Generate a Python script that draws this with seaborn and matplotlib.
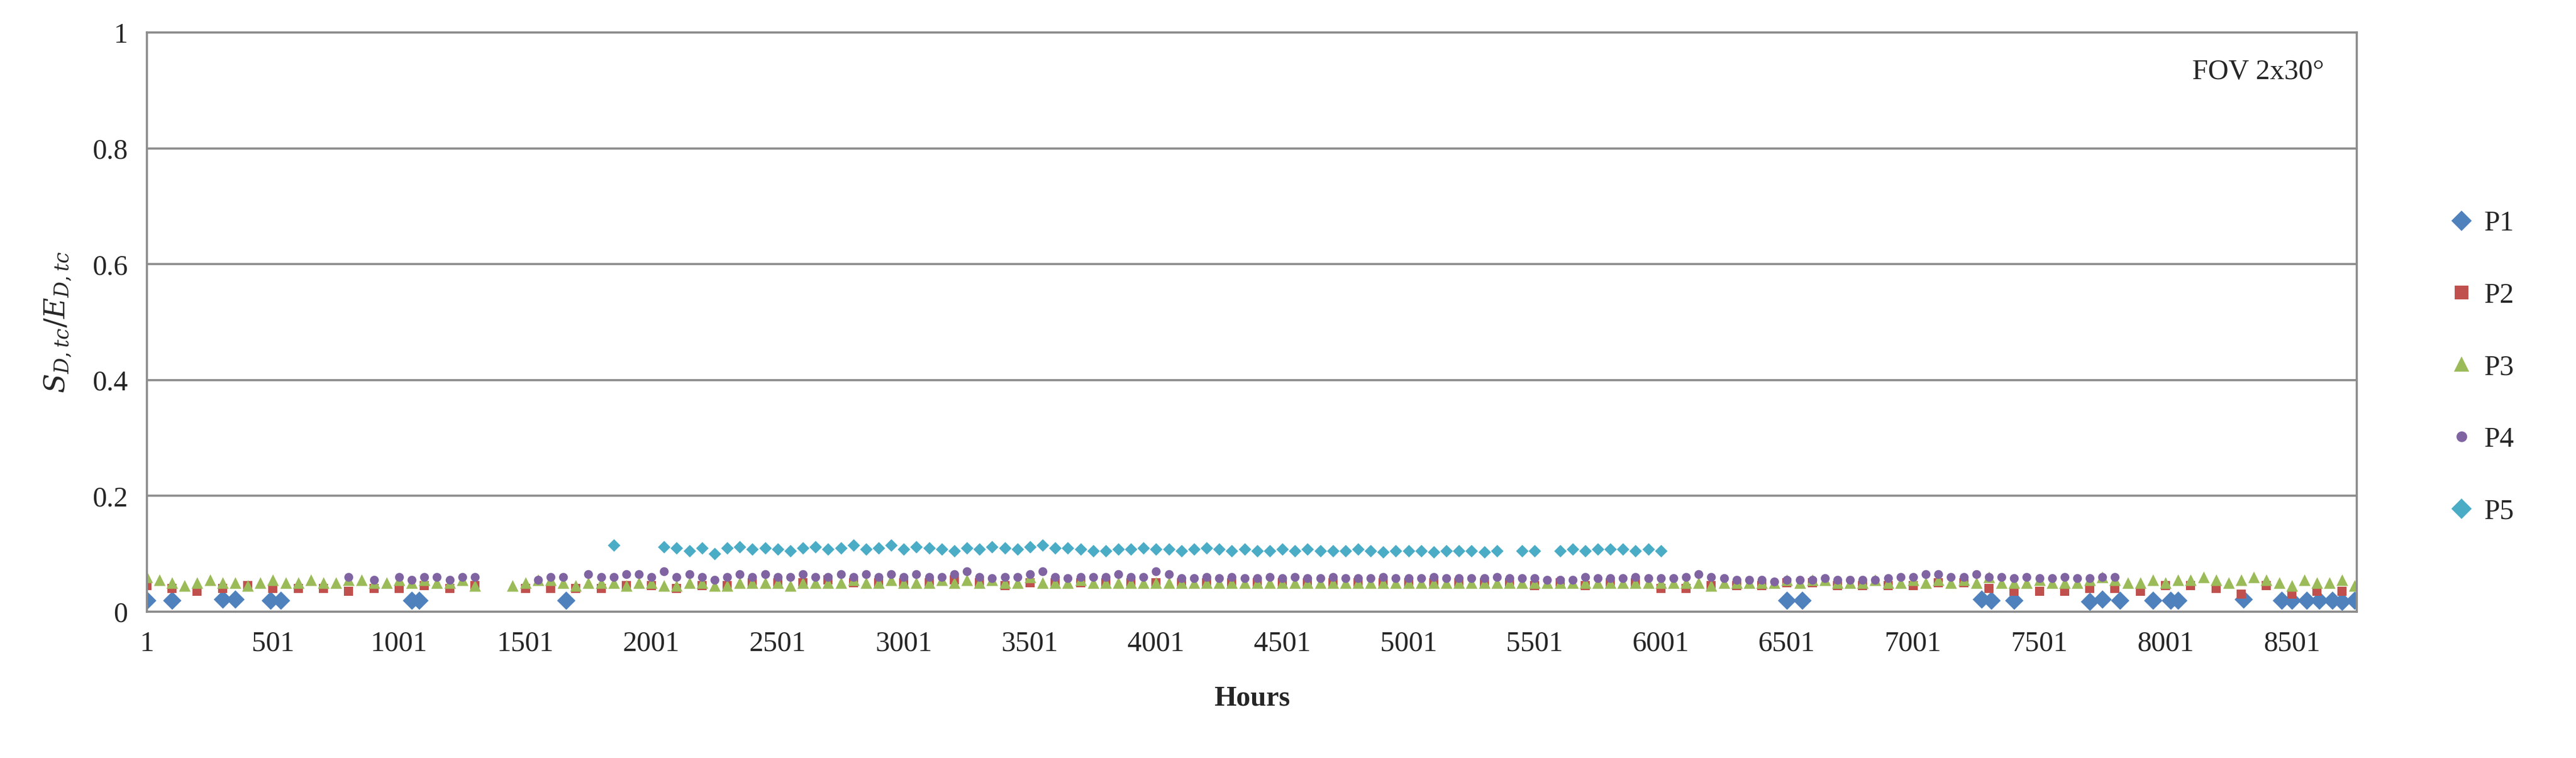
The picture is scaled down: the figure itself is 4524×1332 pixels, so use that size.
import numpy as np
import pandas as pd
import seaborn as sns
import matplotlib.pyplot as plt

nan = np.nan

# hourly samples every 50 h (hour = 1 + 50*i)
hours50 = list(range(1, 8760, 50))

p1_hours = [1, 101, 301, 351, 491, 531, 1051, 1081, 1661, 6501, 6561, 7271, 7311,
            7401, 7701, 7751, 7821, 7951, 8021, 8051, 8311, 8461, 8501, 8561,
            8611, 8661, 8701, 8751]
p1_vals = [0.02, 0.02, 0.022, 0.022, 0.02, 0.02, 0.02, 0.02, 0.02, 0.02, 0.02, 0.022,
           0.02, 0.02, 0.018, 0.022, 0.02, 0.02, 0.02, 0.02, 0.022, 0.02, 0.02, 0.02,
           0.02, 0.02, 0.018, 0.02]

hours100 = list(range(1, 8760, 100))
p2_vals = [0.045, 0.04, 0.035, 0.04, 0.045, 0.04, 0.04, 0.04, 0.035, 0.04,
           0.04, 0.045, 0.04, 0.045, nan, 0.04, 0.04, 0.04, 0.04, 0.045,
           0.045, 0.04, 0.045, 0.045, 0.05, 0.05, 0.05, 0.055, 0.05, 0.05,
           0.05, 0.05, 0.055, 0.05, 0.045, 0.05, 0.05, 0.05, 0.05, 0.05,
           0.05, 0.05, 0.05, 0.05, 0.05, 0.05, 0.05, 0.05, 0.05, 0.05,
           0.05, 0.05, 0.05, 0.05, 0.05, 0.045, 0.05, 0.045, 0.05, 0.05,
           0.04, 0.04, 0.045, 0.045, 0.045, 0.05, 0.05, 0.045, 0.045, 0.045,
           0.045, 0.05, 0.05, 0.04, 0.035, 0.035, 0.035, 0.04, 0.04, 0.035,
           0.045, 0.045, 0.04, 0.03, 0.045, 0.03, 0.035, 0.035]

p3_vals = [0.06, 0.055, 0.05, 0.045, 0.05, 0.055, 0.05, 0.05, 0.045, 0.05,
           0.055, 0.05, 0.05, 0.055, 0.05, 0.05, 0.055, 0.055, 0.05, 0.05,
           0.055, 0.05, 0.055, 0.05, 0.05, 0.055, 0.045, nan, nan, 0.045,
           0.05, 0.055, 0.055, 0.05, 0.045, 0.05, 0.05, 0.05, 0.045, 0.05,
           0.05, 0.045, 0.045, 0.05, 0.05, 0.045, 0.045, 0.05, 0.05, 0.05,
           0.05, 0.045, 0.05, 0.05, 0.05, 0.05, 0.055, 0.05, 0.05, 0.055,
           0.05, 0.05, 0.05, 0.055, 0.05, 0.055, 0.05, 0.055, 0.05, 0.05,
           0.06, 0.05, 0.05, 0.05, 0.055, 0.05, 0.05, 0.05, 0.05, 0.05,
           0.05, 0.05, 0.05, 0.05, 0.05, 0.05, 0.05, 0.05, 0.05, 0.05,
           0.05, 0.05, 0.05, 0.05, 0.05, 0.05, 0.05, 0.05, 0.05, 0.05,
           0.05, 0.05, 0.05, 0.05, 0.05, 0.05, 0.05, 0.05, 0.05, 0.05,
           0.05, 0.05, 0.05, 0.05, 0.05, 0.05, 0.05, 0.05, 0.05, 0.05,
           0.05, 0.05, 0.05, 0.05, 0.045, 0.05, 0.05, 0.05, 0.05, 0.05,
           0.055, 0.05, 0.055, 0.055, 0.05, 0.05, 0.05, 0.055, 0.05, 0.05,
           0.055, 0.05, 0.055, 0.05, 0.055, 0.05, 0.06, 0.05, 0.05, 0.05,
           0.055, 0.05, 0.05, 0.05, 0.055, 0.06, 0.055, 0.05, 0.05, 0.055,
           0.05, 0.055, 0.055, 0.06, 0.055, 0.05, 0.055, 0.06, 0.055, 0.05,
           0.045, 0.055, 0.05, 0.05, 0.055, 0.045]

p4_vals = [nan] * 16 + [
           0.06, nan, 0.055, nan, 0.06, 0.055, 0.06, 0.06, 0.055, 0.06,
           0.06, nan, nan, nan, nan, 0.055, 0.06, 0.06, nan, 0.065,
           0.06, 0.06, 0.065, 0.065, 0.06, 0.07, 0.06, 0.065, 0.06, 0.055,
           0.06, 0.065, 0.06, 0.065, 0.06, 0.06, 0.065, 0.06, 0.06, 0.065,
           0.06, 0.065, 0.06, 0.065, 0.06, 0.065, 0.06, 0.06, 0.065, 0.07,
           0.06, 0.058, 0.06, 0.06, 0.065, 0.07, 0.06, 0.058, 0.06, 0.06,
           0.06, 0.065, 0.06, 0.06, 0.07, 0.065, 0.058, 0.058, 0.06, 0.058,
           0.06, 0.058, 0.058, 0.06, 0.058, 0.06, 0.058, 0.058, 0.06, 0.058,
           0.058, 0.058, 0.06, 0.058, 0.058, 0.058, 0.06, 0.058, 0.058, 0.058,
           0.058, 0.06, 0.058, 0.058, 0.058, 0.055, 0.055, 0.055, 0.06, 0.058,
           0.058, 0.058, 0.06, 0.058, 0.058, 0.058, 0.06, 0.065, 0.06, 0.058,
           0.055, 0.055, 0.055, 0.052, 0.055, 0.055, 0.055, 0.058, 0.055, 0.055,
           0.055, 0.055, 0.058, 0.06, 0.06, 0.065, 0.065, 0.06, 0.06, 0.065,
           0.06, 0.06, 0.058, 0.06, 0.058, 0.058, 0.06, 0.058, 0.058, 0.06,
           0.06]

p5_vals = [nan] * 37 + [0.115, nan, nan, nan,
           0.112, 0.11, 0.105, 0.11, 0.1, 0.11, 0.112, 0.108, 0.11, 0.108,
           0.105, 0.11, 0.112, 0.108, 0.11, 0.115, 0.108, 0.11, 0.115, 0.108,
           0.112, 0.11, 0.108, 0.105, 0.11, 0.108, 0.112, 0.11, 0.108, 0.112,
           0.115, 0.11, 0.11, 0.108, 0.105, 0.105, 0.108, 0.108, 0.11, 0.108,
           0.108, 0.105, 0.108, 0.11, 0.108, 0.105, 0.108, 0.105, 0.105, 0.108,
           0.105, 0.108, 0.105, 0.105, 0.105, 0.108, 0.105, 0.103, 0.105, 0.105,
           0.105, 0.103, 0.105, 0.105, 0.105, 0.103, 0.105, nan, 0.105, 0.105,
           nan, 0.105, 0.108, 0.105, 0.108, 0.108, 0.108, 0.105, 0.108, 0.105]


def fit(vals, n):
    # pad the tail with gaps (or trim) so values line up with their hours
    vals = list(vals)[:n]
    return vals + [nan] * (n - len(vals))


series = [
    ("P1", p1_hours, p1_vals, "#4F81BD", "D", 30),
    ("P2", hours100, p2_vals, "#C0504D", "s", 16),
    ("P3", hours50, p3_vals, "#9BBB59", "^", 24),
    ("P4", hours50, p4_vals, "#8064A2", "o", 14),
    ("P5", hours50, p5_vals, "#4BACC6", "D", 14),
]

sns.set_style("white")
plt.rcParams['font.family'] = ['Liberation Serif', 'DejaVu Serif']
plt.rcParams['mathtext.fontset'] = 'dejavuserif'

fig = plt.figure(figsize=(15.08, 4.44), dpi=300)
ax = fig.add_axes([0.057, 0.193, 0.858, 0.764])

for name, xs, ys, col, mk, sz in series:
    df = pd.DataFrame({"Hours": xs, "val": fit(ys, len(xs))}).dropna()
    sns.scatterplot(data=df, x="Hours", y="val", ax=ax, color=col, marker=mk,
                    s=sz, linewidth=0, legend=False)

ax.set_xlim(1, 8760)
ax.set_ylim(0, 1)
ax.set_xticks(list(range(1, 8760, 500)))
ax.set_yticks([0, 0.2, 0.4, 0.6, 0.8, 1])
ax.set_yticklabels(["0", "0.2", "0.4", "0.6", "0.8", "1"])
ax.tick_params(axis="both", labelsize=12, length=0, pad=8)
ax.grid(axis="y", color="#8c8c8c", lw=0.9)
for s in ax.spines.values():
    s.set_color("#8c8c8c")
    s.set_linewidth(0.9)
ax.set_xlabel("Hours", fontsize=12, fontweight="bold", labelpad=12)
ax.set_ylabel(r"$S_{D,tc}/E_{D,tc}$", fontsize=12, labelpad=8)
ax.text(0.985, 0.955, "FOV 2x30°", transform=ax.transAxes, ha="right", va="top", fontsize=12)

handles = [plt.Line2D([], [], ls="", marker=mk, color=col, markersize=5 if mk != "o" else 3.5)
           for _, _, _, col, mk, _ in series]
fig.legend(handles, [s[0] for s in series], loc="center left", bbox_to_anchor=(0.94, 0.515),
           frameon=False, fontsize=12, labelspacing=1.6, handletextpad=0.3, handlelength=1)

fig.savefig("out.png", dpi=300)
